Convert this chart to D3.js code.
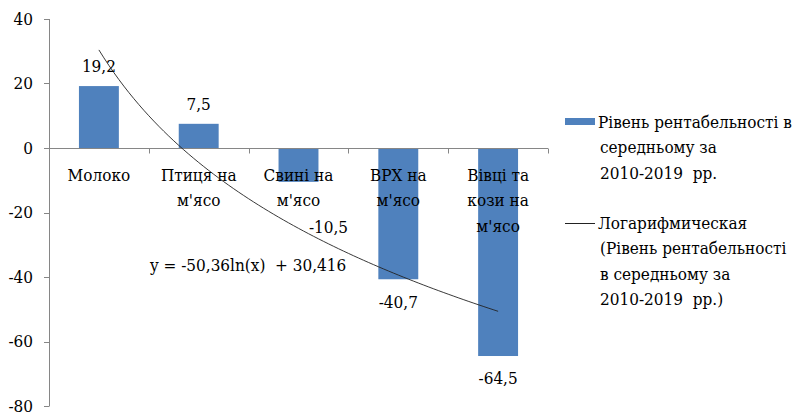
<!DOCTYPE html>
<html><head><meta charset="utf-8">
<script src="https://cdn.jsdelivr.net/npm/d3@7"></script>
<style>body{margin:0;background:#fff} svg text{font-family:'DejaVu Serif Condensed','DejaVu Serif';font-stretch:condensed}</style>
</head><body><svg id="c" width="796" height="412"></svg>
<script>
const categories = [["Молоко"],["Птиця на","м'ясо"],["Свині на","м'ясо"],["ВРХ на","м'ясо"],["Вівці та","кози на","м'ясо"]];
const values = [19.2, 7.5, -10.5, -40.7, -64.5];
const valueLabels = ["19,2","7,5","-10,5","-40,7","-64,5"];
const yTicks = [40,20,0,-20,-40,-60,-80];
const trendA = -50.36, trendB = 30.416;
const equation = "y = -50,36ln(x)  + 30,416";
const legendBar = ["Рівень рентабельності в","середньому за","2010-2019  рр."];
const legendLine = ["Логарифмическая","(Рівень рентабельності","в середньому за","2010-2019  рр.)"];

const svg = d3.select("#c");
const fs = 17;
const x = d3.scaleBand().domain(d3.range(categories.length)).range([49,548]).paddingInner(0.6).paddingOuter(0.3);
const xb = d3.scaleBand().domain(d3.range(categories.length)).range([49,548]);
const y = d3.scaleLinear().domain([-80,40]).range([406,19]);
const axisColor = "#868686";

svg.append("line").attr("x1",49.5).attr("x2",49.5).attr("y1",y(40)).attr("y2",y(-80)).attr("stroke",axisColor);
yTicks.forEach(t=>{
  svg.append("line").attr("x1",44).attr("x2",49.5).attr("y1",Math.round(y(t))+0.5).attr("y2",Math.round(y(t))+0.5).attr("stroke",axisColor);
  svg.append("text").attr("x",33).attr("y",y(t)).attr("dy","0.35em").attr("text-anchor","end").attr("font-size",fs).text(t);
});

svg.selectAll("rect.bar").data(values).enter().append("rect").attr("class","bar")
  .attr("x",(d,i)=>x(i)).attr("width",x.bandwidth())
  .attr("y",d=>y(Math.max(0,d))).attr("height",d=>Math.abs(y(d)-y(0)))
  .attr("fill","#4F81BD");

const y0 = Math.round(y(0))+0.5;
svg.append("line").attr("x1",49).attr("x2",548).attr("y1",y0).attr("y2",y0).attr("stroke",axisColor);
d3.range(categories.length+1).forEach(i=>{
  const xx = Math.round(49 + i*xb.step())+0.5;
  svg.append("line").attr("x1",xx).attr("x2",xx).attr("y1",y0).attr("y2",y0+5).attr("stroke",axisColor);
});

categories.forEach((lines,i)=>{
  const t = svg.append("text").attr("text-anchor","middle").attr("font-size",fs);
  lines.forEach((l,j)=>t.append("tspan").attr("x",xb(i)+xb.bandwidth()/2).attr("y",175+j*25.5).attr("dy","0.35em").text(l));
});

const labelOffsets = [[0,-20],[0,-20],[30,45],[0,23],[0,22]];
values.forEach((v,i)=>{
  const cx = x(i)+x.bandwidth()/2 + labelOffsets[i][0];
  const cy = y(v) + labelOffsets[i][1];
  svg.append("text").attr("x",cx).attr("y",cy).attr("dy","0.35em").attr("text-anchor","middle").attr("font-size",fs).text(valueLabels[i]);
});

const tx = d3.scaleLinear().domain([1,categories.length]).range([x(0)+x.bandwidth()/2, x(categories.length-1)+x.bandwidth()/2]);
const pts = d3.range(1,5.001,0.05).map(k=>[tx(k), y(trendA*Math.log(k)+trendB)]);
svg.append("path").attr("d",d3.line()(pts)).attr("fill","none").attr("stroke","#222").attr("stroke-width",0.9);

svg.append("text").attr("x",150).attr("y",265).attr("dy","0.35em").attr("font-size",fs).style("white-space","pre").text(equation);

svg.append("rect").attr("x",565).attr("y",118).attr("width",30).attr("height",7).attr("fill","#4F81BD");
const lt1 = svg.append("text").attr("font-size",fs);
legendBar.forEach((l,j)=>lt1.append("tspan").attr("x",j==0?598:600).attr("y",122+j*25.5).attr("dy","0.35em").style("white-space","pre").text(l));
svg.append("line").attr("x1",565).attr("x2",595).attr("y1",223.5).attr("y2",223.5).attr("stroke","#222");
const lt2 = svg.append("text").attr("font-size",fs);
legendLine.forEach((l,j)=>lt2.append("tspan").attr("x",j==0?598:600).attr("y",223+j*25.5).attr("dy","0.35em").style("white-space","pre").text(l));
</script></body></html>
